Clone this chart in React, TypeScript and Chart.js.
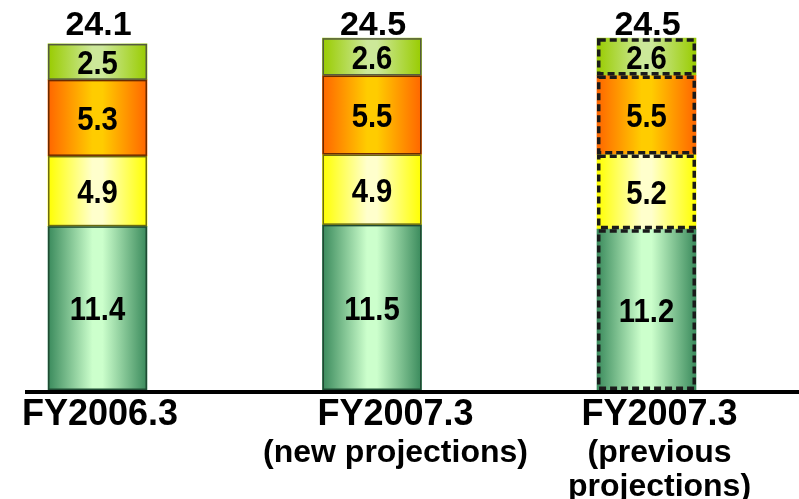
import React, { useEffect, useRef } from "react";
import { Chart, registerables } from "chart.js";

Chart.register(...registerables);

// ---- data ----
const categories = ["FY2006.3", "FY2007.3", "FY2007.3"];
const subLabels = [[], ["(new projections)"], ["(previous", "projections)"]];
const seriesGreen = [11.4, 11.5, 11.2];
const seriesYellow = [4.9, 4.9, 5.2];
const seriesOrange = [5.3, 5.5, 5.5];
const seriesLime = [2.5, 2.6, 2.6];
const dashedBars = [false, false, true];

// ---- styles ----
const FONT = "'Liberation Sans', Arial, sans-serif";
const BAR_W = 99;
const labelOffsets = [2.5, 23.5, 13];
const gradients: Record<string, string[]> = {
  green: ["#3a8a5c", "#ccffcc", "#3a8a5c"],
  yellow: ["#ffff00", "#ffffcc", "#ffff00"],
  orange: ["#ff6600", "#ffcc00", "#ff6600"],
  lime: ["#99cc00", "#cce899", "#99cc00"],
};
const borders: Record<string, string> = {
  green: "#1f4a33",
  yellow: "#6b6b10",
  orange: "#6b2a00",
  lime: "#555a40",
};

function gradFill(key: string) {
  return (c: any) => {
    const chart = c.chart;
    const xs = chart.scales && chart.scales.x;
    if (!xs || c.dataIndex === undefined) return gradients[key][0];
    const cx = xs.getPixelForValue(c.dataIndex);
    if (!isFinite(cx)) return gradients[key][0];
    const g = chart.ctx.createLinearGradient(cx - BAR_W / 2, 0, cx + BAR_W / 2, 0);
    const s = gradients[key];
    g.addColorStop(0, s[0]);
    g.addColorStop(0.45, s[1]);
    g.addColorStop(0.55, s[1]);
    g.addColorStop(1, s[2]);
    return g;
  };
}

const seriesKeys = ["green", "yellow", "orange", "lime"];

function narrowText(ctx: CanvasRenderingContext2D, text: string, x: number, y: number, sx: number) {
  ctx.save();
  ctx.translate(x, y);
  ctx.scale(sx, 1);
  ctx.fillText(text, 0, 0);
  ctx.restore();
}

const overlay = {
  id: "overlay",
  afterDatasetsDraw(chart: any) {
    const ctx = chart.ctx as CanvasRenderingContext2D;
    const area = chart.chartArea;
    const totals = categories.map((_, i) =>
      chart.data.datasets.reduce((s: number, d: any) => s + d.data[i], 0)
    );
    // borders
    chart.data.datasets.forEach((ds: any, di: number) => {
      const meta = chart.getDatasetMeta(di);
      meta.data.forEach((el: any, i: number) => {
        const p = el.getProps(["x", "y", "base", "width"], true);
        const left = p.x - p.width / 2;
        const top = Math.min(p.y, p.base);
        const h = Math.abs(p.base - p.y);
        ctx.save();
        if (dashedBars[i]) {
          ctx.strokeStyle = "#1a1a1a";
          ctx.lineWidth = 3.5;
          ctx.setLineDash([7, 4]);
          ctx.strokeRect(left + 1.75, top + 1.75, p.width - 3.5, h - 3.5);
        } else {
          ctx.strokeStyle = borders[seriesKeys[di]];
          ctx.lineWidth = 1.5;
          ctx.strokeRect(left + 0.75, top + 0.75, p.width - 1.5, h - 1.5);
        }
        ctx.restore();
      });
    });
    // axis line
    ctx.save();
    ctx.strokeStyle = "#000";
    ctx.lineWidth = 4;
    ctx.beginPath();
    ctx.moveTo(25, area.bottom + 2);
    ctx.lineTo(799, area.bottom + 2);
    ctx.stroke();
    ctx.restore();
    // segment labels
    ctx.save();
    ctx.fillStyle = "#000";
    ctx.textAlign = "center";
    ctx.textBaseline = "alphabetic";
    ctx.font = `bold 34px ${FONT}`;
    chart.data.datasets.forEach((ds: any, di: number) => {
      const meta = chart.getDatasetMeta(di);
      meta.data.forEach((el: any, i: number) => {
        const p = el.getProps(["x", "y", "base"], true);
        const mid = (p.y + p.base) / 2;
        narrowText(ctx, ds.data[i].toFixed(1), p.x, mid + 12.2, 0.86);
      });
    });
    // totals
    ctx.font = `bold 34px ${FONT}`;
    const xs = chart.scales.x;
    totals.forEach((t: number, i: number) => {
      narrowText(ctx, t.toFixed(1), xs.getPixelForValue(i) + 1, 35, 1.0);
    });
    // category labels
    categories.forEach((c, i) => {
      const x = xs.getPixelForValue(i) + labelOffsets[i];
      ctx.font = `bold 36px ${FONT}`;
      ctx.fillText(c, x, area.bottom + 35);
      ctx.font = `bold 32px ${FONT}`;
      subLabels[i].forEach((s, k) => {
        ctx.fillText(s, x, area.bottom + 72 + k * 34);
      });
    });
    ctx.restore();
  },
};

export default function App() {
  const ref = useRef<HTMLCanvasElement>(null);
  useEffect(() => {
    if (!ref.current) return;
    const seriesData = [seriesGreen, seriesYellow, seriesOrange, seriesLime];
    const chart = new Chart(ref.current, {
      type: "bar",
      data: {
        labels: categories,
        datasets: seriesKeys.map((k, di) => ({
          label: k,
          data: seriesData[di],
          backgroundColor: gradFill(k),
          borderWidth: 0,
          barThickness: BAR_W,
          clip: false as any,
          stack: "s",
        })),
      },
      options: {
        animation: false,
        responsive: true,
        maintainAspectRatio: false,
        layout: { padding: { left: 97.5, right: 152.5, top: 0, bottom: 109 } },
        plugins: { legend: { display: false }, tooltip: { enabled: false } },
        scales: {
          x: { stacked: true, offset: false, display: false },
          y: { stacked: true, min: 0, max: 27.16, display: false },
        },
      },
      plugins: [overlay],
    });
    return () => chart.destroy();
  }, []);
  return (
    <div style={{ position: "fixed", left: 0, top: 0, width: 799, height: 499, background: "#fff" }}>
      <canvas ref={ref} />
    </div>
  );
}
